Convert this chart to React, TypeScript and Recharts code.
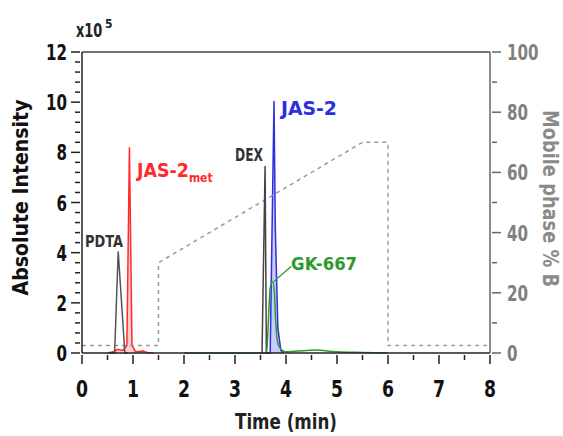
import React from "react";
import {
  ComposedChart,
  Line,
  Area,
  XAxis,
  YAxis,
  ReferenceLine,
  ReferenceDot,
} from "recharts";

const FONT = "'Liberation Sans Narrow', 'DejaVu Sans Condensed', 'Arial Narrow', sans-serif";

// chromatogram traces: time (min) and absolute intensity (x10^5)
const pdtaTime = [0.55, 0.64, 0.71, 0.84, 0.9];
const pdtaValue = [0, 0, 4.05, 0, 0];

const jasMetTime = [0.5, 0.62, 0.7, 0.8, 0.88, 0.93, 0.98, 1.05, 1.2, 1.3, 1.4];
const jasMetValue = [0, 0.05, 0.15, 0.1, 0.3, 8.2, 0.3, 0.05, 0.08, 0, 0];

const dexTime = [3.5, 3.53, 3.59, 3.615, 3.65];
const dexValue = [0, 0, 7.45, 0, 0];

const jasTime = [3.6, 3.69, 3.765, 3.79, 3.84, 3.9, 3.95];
const jasValue = [0, 0, 10.05, 5, 1, 0.1, 0];

const gkTime = [2.0, 3.55, 3.62, 3.66, 3.69, 3.74, 3.77, 3.8, 3.84, 3.9, 4.0, 4.4, 4.6, 4.9, 5.5, 6.0];
const gkValue = [0, 0, 0.05, 1.5, 2.6, 2.85, 2.5, 1.2, 0.4, 0.15, 0.05, 0.1, 0.12, 0.06, 0.02, 0];

// mobile phase gradient (% B)
const gradTime = [0, 1.5, 1.5, 5.5, 6.0, 6.0, 8.0];
const gradValue = [2.5, 2.5, 30, 70, 70, 2.5, 2.5];

const xTicks = [0, 0.5, 1, 1.5, 2, 2.5, 3, 3.5, 4, 4.5, 5, 5.5, 6, 6.5, 7, 7.5, 8];
const leftTicks = Array.from({ length: 31 }, (_, i) => +(i * 0.4).toFixed(1));
const rightTicks = [0, 10, 20, 30, 40, 50, 60, 70, 80, 90, 100];

const rows: any[] = [];
const add = (key: string, t: number[], v: number[]) =>
  t.forEach((time, i) => rows.push({ time, [key]: v[i] }));
add("pdta", pdtaTime, pdtaValue);
add("jasMet", jasMetTime, jasMetValue);
add("dex", dexTime, dexValue);
add("jas", jasTime, jasValue);
add("gk", gkTime, gkValue);
add("grad", gradTime, gradValue);
const data = rows
  .map((r, i) => ({ r, i }))
  .sort((a, b) => a.r.time - b.r.time || a.i - b.i)
  .map((o) => o.r);

const isMult = (v: number, step: number) => Math.abs(v / step - Math.round(v / step)) < 1e-6;

// narrow bold text, squeezed to a fixed advance per character
const Narrow = ({ children, per, ...rest }: any) => {
  const s = String(children);
  return (
    <text fontFamily={FONT} fontWeight="bold" textLength={s.length * per} lengthAdjust="spacingAndGlyphs" {...rest}>
      {s}
    </text>
  );
};

const XTick = (props: any) => {
  const { x, y, payload } = props;
  const major = isMult(payload.value, 1);
  return (
    <g>
      <line x1={x} x2={x} y1={y} y2={y + (major ? 9 : 5)} stroke="#222" strokeWidth={1.5} />
      {major && (
        <Narrow x={x} y={y + 42} per={12} textAnchor="middle" fontSize={23} fill="#111">
          {payload.value}
        </Narrow>
      )}
    </g>
  );
};

const LeftTick = (props: any) => {
  const { x, y, payload } = props;
  const major = isMult(payload.value, 2);
  return (
    <g>
      <line x1={x} x2={x - (major ? 9 : 5)} y1={y} y2={y} stroke="#222" strokeWidth={1.5} />
      {major && (
        <Narrow x={x - 13} y={y + 8} per={10.5} textAnchor="end" fontSize={22} fill="#111">
          {Math.round(payload.value)}
        </Narrow>
      )}
    </g>
  );
};

const RightTick = (props: any) => {
  const { x, y, payload } = props;
  const major = isMult(payload.value, 20);
  return (
    <g>
      <line x1={x} x2={x + (major ? 9 : 5)} y1={y} y2={y} stroke="#666" strokeWidth={1.5} />
      {major && (
        <Narrow x={x + 15} y={y + 8} per={10.5} textAnchor="start" fontSize={22} fill="#808080">
          {payload.value}
        </Narrow>
      )}
    </g>
  );
};

const peakLabel = (text: string, color: string, size: number, width: number, sub?: string) => (props: any) => {
  const { viewBox } = props;
  if (!sub) {
    return (
      <text x={viewBox.x} y={viewBox.y} fontFamily={FONT} fontWeight="bold" fontSize={size} fill={color} textLength={width} lengthAdjust="spacingAndGlyphs">
        {text}
      </text>
    );
  }
  return (
    <text x={viewBox.x} y={viewBox.y} fontFamily={FONT} fontWeight="bold" fontSize={size} fill={color} textLength={width + sub.length * 7.5 + 1} lengthAdjust="spacingAndGlyphs">
      {text}
      <tspan fontSize={size * 0.62} dy={5}>
        {sub}
      </tspan>
    </text>
  );
};

export default function App() {
  return (
    <div style={{ position: "absolute", left: 0, top: 0, background: "#fff" }}>
      <ComposedChart width={563} height={436} data={data} margin={{ top: 52, right: 0, bottom: 0, left: 0 }}>
        <XAxis
          dataKey="time"
          type="number"
          domain={[0, 8]}
          ticks={xTicks}
          interval={0}
          tickSize={0}
          tickLine={false}
          tick={<XTick />}
          height={83}
          axisLine={{ stroke: "#222", strokeWidth: 1.5 }}
          label={{
            content: (p: any) => (
              <text x={p.viewBox.x + p.viewBox.width / 2} y={429} textAnchor="middle" fontFamily={FONT} fontWeight="bold" fontSize={21} fill="#222" textLength={102} lengthAdjust="spacingAndGlyphs">
                Time (min)
              </text>
            ),
          }}
        />
        <YAxis
          yAxisId="left"
          type="number"
          domain={[0, 12]}
          ticks={leftTicks}
          interval={0}
          tickSize={0}
          tickLine={false}
          tick={<LeftTick />}
          width={82}
          axisLine={{ stroke: "#222", strokeWidth: 1.5 }}
          label={{
            content: (p: any) => {
              const cy = p.viewBox.y + p.viewBox.height / 2 - 5;
              return (
                <g>
                  <text transform={`translate(28, ${cy}) rotate(-90)`} textAnchor="middle" fontFamily={FONT} fontWeight="bold" fontSize={21} fill="#111" textLength={196} lengthAdjust="spacingAndGlyphs">
                    Absolute Intensity
                  </text>
                  <text transform="translate(76, 37) scale(0.72, 1)" fontFamily={FONT} fontWeight="bold" fontSize={20} fill="#222">
                    x10
                  </text>
                  <text x={105} y={28} fontFamily={FONT} fontWeight="bold" fontSize={12} fill="#222">
                    5
                  </text>
                </g>
              );
            },
          }}
        />
        <YAxis
          yAxisId="right"
          orientation="right"
          type="number"
          domain={[0, 100]}
          ticks={rightTicks}
          interval={0}
          tickSize={0}
          tickLine={false}
          tick={<RightTick />}
          width={73}
          axisLine={{ stroke: "#666", strokeWidth: 1.5 }}
          label={{
            content: (p: any) => {
              const cy = p.viewBox.y + p.viewBox.height / 2 - 4;
              return (
                <text transform={`translate(543, ${cy}) rotate(90)`} textAnchor="middle" fontFamily={FONT} fontWeight="bold" fontSize={21} fill="#8a8a8a" textLength={177} lengthAdjust="spacingAndGlyphs">
                  Mobile phase % B
                </text>
              );
            },
          }}
        />
        <ReferenceLine yAxisId="left" y={12} stroke="#444" strokeWidth={1.5} />

        <Line yAxisId="right" dataKey="grad" type="linear" stroke="#9a9a9a" strokeWidth={1.5} strokeDasharray="4 4" dot={false} connectNulls isAnimationActive={false} />
        <Line yAxisId="left" dataKey="pdta" type="linear" stroke="#555" strokeWidth={1.5} dot={false} connectNulls isAnimationActive={false} />
        <Area yAxisId="left" dataKey="jasMet" type="linear" stroke="#ff2a2a" strokeWidth={1.5} fill="#ff7070" fillOpacity={0.35} dot={false} connectNulls isAnimationActive={false} />
        <Line yAxisId="left" dataKey="dex" type="linear" stroke="#444" strokeWidth={1.5} dot={false} connectNulls isAnimationActive={false} />
        <Area yAxisId="left" dataKey="jas" type="linear" stroke="#2e2ee0" strokeWidth={1.5} fill="#6a6aff" fillOpacity={0.35} dot={false} connectNulls isAnimationActive={false} />
        <Line yAxisId="left" dataKey="gk" type="monotone" stroke="#2e9a2e" strokeWidth={1.5} dot={false} connectNulls isAnimationActive={false} />

        <ReferenceLine yAxisId="left" segment={[{ x: 3.76, y: 2.85 }, { x: 4.1, y: 3.45 }]} stroke="#2e9a2e" strokeWidth={1.2} />
        <ReferenceDot yAxisId="left" x={0.06} y={4.23} r={0} stroke="none" fill="none" label={{ content: peakLabel("PDTA", "#333", 15, 38) }} />
        <ReferenceDot yAxisId="left" x={1.08} y={7.02} r={0} stroke="none" fill="none" label={{ content: peakLabel("JAS-2", "#ff2a2a", 20, 52, "met") }} />
        <ReferenceDot yAxisId="left" x={3.0} y={7.66} r={0} stroke="none" fill="none" label={{ content: peakLabel("DEX", "#333", 17, 28) }} />
        <ReferenceDot yAxisId="left" x={3.9} y={9.49} r={0} stroke="none" fill="none" label={{ content: peakLabel("JAS-2", "#2e2ee0", 19, 56) }} />
        <ReferenceDot yAxisId="left" x={4.1} y={3.31} r={0} stroke="none" fill="none" label={{ content: peakLabel("GK-667", "#2e9a2e", 18, 66) }} />
      </ComposedChart>
    </div>
  );
}
